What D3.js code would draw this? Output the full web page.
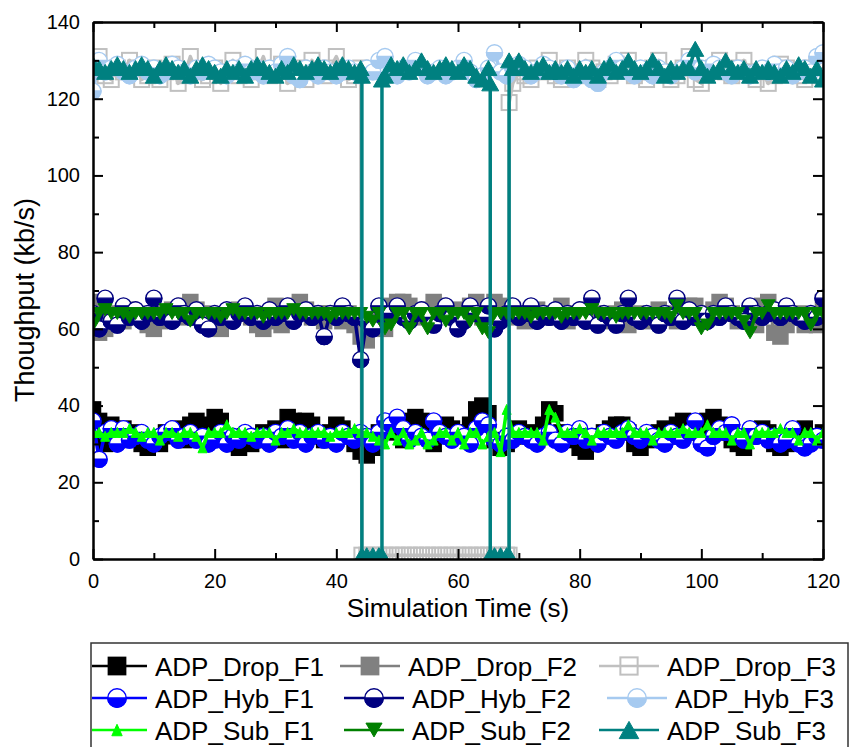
<!DOCTYPE html>
<html><head><meta charset="utf-8">
<script src="https://cdn.jsdelivr.net/npm/d3@7"></script>
<style>body{margin:0;background:#fff}svg{display:block}</style>
</head><body>
<svg id="chart" width="855" height="747"></svg>
<script>
// ---------------- DATA ----------------
const time = [0,1,2,3,4,5,6,7,8,9,10,11,12,13,14,15,16,17,18,19,20,21,22,23,24,25,26,27,28,29,30,31,32,33,34,35,36,37,38,39,40,41,42,43,44,45,46,47,48,49,50,51,52,53,54,55,56,57,58,59,60,61,62,63,64,65,66,67,68,69,70,71,72,73,74,75,76,77,78,79,80,81,82,83,84,85,86,87,88,89,90,91,92,93,94,95,96,97,98,99,100,101,102,103,104,105,106,107,108,109,110,111,112,113,114,115,116,117,118,119,120];

const dropF1 = [39,36,30,35,31,34,32,33,30,29, 31,30,33,32,34,31,35,36,33,35, 37,36,31,30,29,32,30,31,33,32, 34,31,37,36,33,36,35,32,31,33, 35,34,32,30,28,27,29,33,35,34, 33,31,36,37,36,32,30,33,35,34, 33,32,35,39,40,38,31,29,30,32, 34,32,33,31,35,39,38,33,32,31, 29,28,30,32,33,34,35,35,33,30, 29,31,32,33,34,32,35,36,34,33, 32,36,37,35,33,31,30,29,32,33, 34,33,30,29,30,32,33,34,32,31, 33];
const dropF2 = [67,59,60,63,64,62,65,64,63,61, 60,62,64,65,63,66,67,65,64,61, 62,60,63,64,65,64,63,61,60,62, 66,61,64,66,67,65,63,64,62,64, 63,62,64,61,58,57,61,64,60,66, 67,67,66,64,63,65,67,66,64,63, 65,64,66,67,63,64,67,66,63,65, 64,62,63,65,64,63,64,66,62,64, 63,65,62,64,63,62,64,65,61,63, 64,62,63,65,64,63,62,64,66,66, 64,63,65,67,66,64,62,63,64,61, 66,67,59,58,61,63,64,61,62,61, 67];
const dropF3Time = [0,1,2,3,4,5,6,7,8,9,10,11,12,13,14,15,16,17,18,19,20,21,22,23,24,25,26,27,28,29,30,31,32,33,34,35,36,37,38,39,40,41,42,43,44,44.2,45,46,47,48,49,50,51,52,53,54,55,56,57,58,59,60,61,62,63,64,65,66,67,68,68.4,68.4,69,70,71,72,73,74,75,76,77,78,79,80,81,82,83,84,85,86,87,88,89,90,91,92,93,94,95,96,97,98,99,100,101,102,103,104,105,106,107,108,109,110,111,112,113,114,115,116,117,118,119,120];
const dropF3 = [128,131,126,125,128,127,130,128,125,126, 128,125,127,129,124,126,131,127,125,126, 128,124,127,130,126,128,125,127,131,126, 127,129,124,126,128,125,130,127,126,128, 131,127,125,126,128, 1, 1,1,1,1,1,1,1,1,1,1,1,1,1,1,1,1,1,1,1,1,1,1,1,1, 1,119, 124,127,126,125,128,127,130,126,125,128, 127,126,130,128,125,127,126,129,128,130, 126,127,125,128,130,127,125,126,128,131, 125,124,127,128,130,127,126,128,130,127, 125,127,124,126,129,128,127,126,125,128, 129,126];

const hybF1 = [36,26,33,34,30,34,31,32,33,31, 30,32,33,34,31,32,33,31,32,30, 31,33,30,32,31,33,32,31,32,30, 33,32,34,31,33,30,32,33,31,32, 30,33,32,31,33,32,30,33,36,35, 37,34,31,33,32,31,36,33,32,31, 33,32,30,34,36,35,31,30,32,31, 33,32,31,30,32,33,31,30,33,32, 34,31,32,30,33,32,31,33,34,32, 31,33,32,31,30,33,32,31,33,36, 30,29,32,34,33,35,32,31,34,32, 33,31,32,30,31,34,30,29,30,32, 31];
const hybF2 = [64,60,68,62,61,66,63,65,62,64, 68,63,64,62,66,64,63,65,61,60, 64,63,65,62,64,66,63,64,62,65, 63,64,66,62,64,65,63,64,58,64, 63,66,64,63,52,62,60,66,63,64, 66,63,62,64,65,63,61,64,66,63, 60,62,66,64,63,66,60,62,64,66, 63,64,66,62,64,63,65,62,64,63, 65,62,68,61,64,63,61,64,68,63, 62,64,63,61,64,63,68,62,65,63, 64,62,64,63,66,64,63,62,66,64, 63,64,65,63,66,64,63,62,64,63, 68];
const hybF3 = [122,130,127,128,129,127,126,128,129,127, 128,126,127,129,128,127,126,128,127,129, 128,127,126,128,127,129,127,128,126,128, 127,129,131,126,125,128,127,126,128,127, 126,127,128,127,126,128,127,130,131,127, 126,128,127,130,128,126,127,128,126,127, 128,130,127,125,126,128,132,127,126,128, 129,128,126,127,129,128,127,126,128,125, 126,128,125,124,127,128,130,128,127,126, 128,127,126,128,127,126,127,128,130,127, 128,127,129,128,127,126,128,127,126,127, 128,127,129,127,128,126,127,128,127,131, 132];

const subF1 = [33,33,32,33,33,33,34,33,32,33, 33,31,33,33,32,33,33,32,29,33, 33,33,35,33,33,33,32,33,33,33, 31,33,33,34,33,33,33,33,33,32, 33,33,33,34,33,33,32,31,30,33, 31,33,30,31,33,30,31,33,33,31, 33,30,33,33,30,32,33,28,39,33, 33,33,33,33,31,39,37,33,33,33, 34,33,31,33,33,33,33,33,35,33, 33,33,31,33,33,33,33,34,33,33, 33,35,33,33,33,31,33,33,30,33, 33,33,33,34,33,33,31,33,33,31, 33];
const subF2 = [61,64,65,64,64,64,63,64,64,64, 64,64,65,64,64,64,62,64,64,64, 64,63,64,65,64,64,64,64,63,64, 64,64,64,65,64,64,64,64,64,63, 64,64,64,64,64,63,62,64,60,61, 64,64,60,64,64,60,64,64,62,64, 64,64,62,64,60,59,64,64,64,64, 64,64,63,64,64,64,64,63,64,64, 64,64,65,64,64,64,63,64,64,64, 64,64,64,64,64,63,66,64,64,64, 60,61,64,64,64,64,64,62,59,64, 64,66,64,64,64,64,64,64,61,64, 64];
const subF3Time = [0,1,2,3,4,5,6,7,8,9,10,11,12,13,14,15,16,17,18,19,20,21,22,23,24,25,26,27,28,29,30,31,32,33,34,35,36,37,38,39,40,41,42,43,44,44.2,44.2,45,46,47,47.5,47.5,48,49,50,51,52,53,54,55,56,57,58,59,60,61,62,63,64,65,65.3,65.3,66,67,68,68.4,68.4,69,70,71,72,73,74,75,76,77,78,79,80,81,82,83,84,85,86,87,88,89,90,91,92,93,94,95,96,97,98,99,100,101,102,103,104,105,106,107,108,109,110,111,112,113,114,115,116,117,118,119,120];
const subF3 = [129,128,127,128,129,128,127,128,129,128, 126,128,129,128,127,128,126,128,129,128, 127,126,128,127,128,126,128,129,128,127, 126,128,127,129,128,127,128,129,128,127, 128,129,128,127,128, 126,1, 1,1,1, 1,125, 126,129,128,129,127,128,130,128,127,128,129,128,127,129,128,126,125,128, 124,1, 1,1,1, 1,130, 128,130,128,127,128,129,127,128,127,128, 126,128,127,128,126,128,129,127,128,130, 128,127,128,130,128,126,128,127,128,128, 133,128,126,127,128,130,128,127,128,126, 128,127,128,127,126,128,127,129,128,126, 128,125];

const seriesNames = ["ADP_Drop_F1","ADP_Drop_F2","ADP_Drop_F3","ADP_Hyb_F1","ADP_Hyb_F2","ADP_Hyb_F3","ADP_Sub_F1","ADP_Sub_F2","ADP_Sub_F3"];
const seriesTimes = [time, time, dropF3Time, time, time, time, time, time, subF3Time];
const seriesValues = [dropF1, dropF2, dropF3, hybF1, hybF2, hybF3, subF1, subF2, subF3];
const xTicksMajor = [0,20,40,60,80,100,120];
const xTicksMinor = [10,30,50,70,90,110];
const yTicksMajor = [0,20,40,60,80,100,120,140];
const yTicksMinor = [10,30,50,70,90,110,130];
const xTitle = "Simulation Time (s)";
const yTitle = "Thoughput (kb/s)";

// ---------------- STYLE ----------------
const colors = ["#000000","#808080","#c0c0c0","#0000ff","#000080","#a6caf0","#00ff00","#008000","#008080"];
const markerTypes = ["square","square","openSquare","half","half","half","triSmall","triDown","triUp"];

const FONT = "'Liberation Sans', Arial, Helvetica, sans-serif";
const svg = d3.select("#chart");
const L = 93, R = 823, T = 22, B = 559;
const x = d3.scaleLinear().domain([0,120]).range([L,R]);
const y = d3.scaleLinear().domain([0,140]).range([B,T]);

svg.append("defs").append("clipPath").attr("id","plotClip")
  .append("rect").attr("x",L).attr("y",T).attr("width",R-L).attr("height",B-T);

function drawMarker(g, type, color, scale){
  const s = scale || 1;
  if(type==="square"||type==="openSquare"){
    const a = 15*s;
    g.append("rect").attr("x",-a/2).attr("y",-a/2).attr("width",a).attr("height",a)
      .attr("fill", type==="square"?color:"none").attr("stroke",color).attr("stroke-width",type==="square"?1.5:2);
  } else if(type==="half"){
    const r = 8*s;
    g.append("circle").attr("r",r).attr("fill","#fff").attr("stroke",color).attr("stroke-width",1.4);
    g.append("path").attr("d",`M${-r},0 A${r},${r} 0 0 0 ${r},0 Z`).attr("fill",color).attr("stroke",color).attr("stroke-width",1.4);
  } else if(type==="triSmall"){
    const w = 9*s, h = 10*s;
    g.append("path").attr("d",`M0,${-h/2} L${w/2},${h/2} L${-w/2},${h/2} Z`).attr("fill",color).attr("stroke",color).attr("stroke-width",1);
  } else if(type==="triDown"){
    const w = 14*s, h = 12*s;
    g.append("path").attr("d",`M0,${h/2} L${w/2},${-h/2} L${-w/2},${-h/2} Z`).attr("fill",color).attr("stroke",color).attr("stroke-width",1);
  } else if(type==="triUp"){
    const w = 17*s, h = 15*s;
    g.append("path").attr("d",`M0,${-h/2} L${w/2},${h/2} L${-w/2},${h/2} Z`).attr("fill",color).attr("stroke",color).attr("stroke-width",1);
  }
}

// ---------------- SERIES ----------------
const plot = svg.append("g").attr("clip-path","url(#plotClip)");
const line = d3.line().x(d=>x(d[0])).y(d=>y(d[1]));
seriesNames.forEach((name,i)=>{
  const pts = seriesTimes[i].map((t,k)=>[t, seriesValues[i][k]]);
  const g = plot.append("g").attr("class","series");
  g.append("path").datum(pts).attr("d",line).attr("fill","none")
    .attr("stroke",colors[i]).attr("stroke-width",3.5).attr("stroke-linejoin","round");
  g.selectAll("g.m").data(pts).join("g").attr("class","m")
    .attr("transform",d=>`translate(${x(d[0])},${y(d[1])})`)
    .each(function(){ drawMarker(d3.select(this), markerTypes[i], colors[i], 1); });
});

// ---------------- AXES ----------------
function styleAxis(g){
  g.selectAll(".domain").attr("stroke","#000").attr("stroke-width",2);
  g.selectAll(".tick line").attr("stroke","#000").attr("stroke-width",2);
  g.selectAll("text").attr("font-family",FONT).attr("font-size",20).attr("fill","#000");
}
svg.append("g").attr("transform",`translate(0,${B})`)
  .call(d3.axisBottom(x).tickValues(xTicksMajor).tickSizeInner(-10).tickSizeOuter(0).tickPadding(15).tickFormat(d3.format("d")))
  .call(styleAxis);
svg.append("g").attr("transform",`translate(0,${B})`)
  .call(d3.axisBottom(x).tickValues(xTicksMinor).tickSizeInner(-6).tickSizeOuter(0).tickFormat(""))
  .call(styleAxis);
svg.append("g").attr("transform",`translate(0,${T})`)
  .call(d3.axisTop(x).tickValues(xTicksMajor).tickSizeInner(-10).tickSizeOuter(0).tickFormat(""))
  .call(styleAxis);
svg.append("g").attr("transform",`translate(0,${T})`)
  .call(d3.axisTop(x).tickValues(xTicksMinor).tickSizeInner(-6).tickSizeOuter(0).tickFormat(""))
  .call(styleAxis);
svg.append("g").attr("transform",`translate(${L},0)`)
  .call(d3.axisLeft(y).tickValues(yTicksMajor).tickSizeInner(-10).tickSizeOuter(0).tickPadding(13).tickFormat(d3.format("d")))
  .call(styleAxis);
svg.append("g").attr("transform",`translate(${L},0)`)
  .call(d3.axisLeft(y).tickValues(yTicksMinor).tickSizeInner(-6).tickSizeOuter(0).tickFormat(""))
  .call(styleAxis);
svg.append("g").attr("transform",`translate(${R},0)`)
  .call(d3.axisRight(y).tickValues(yTicksMajor).tickSizeInner(-10).tickSizeOuter(0).tickFormat(""))
  .call(styleAxis);
svg.append("g").attr("transform",`translate(${R},0)`)
  .call(d3.axisRight(y).tickValues(yTicksMinor).tickSizeInner(-6).tickSizeOuter(0).tickFormat(""))
  .call(styleAxis);

// titles
svg.append("text").attr("x",(L+R)/2).attr("y",617).attr("text-anchor","middle")
  .attr("font-family",FONT).attr("font-size",26).text(xTitle);
svg.append("text").attr("transform",`translate(25,${300}) rotate(-90)`).attr("dy","0.35em")
  .attr("text-anchor","middle").attr("font-family",FONT).attr("font-size",27).text(yTitle);

// ---------------- LEGEND ----------------
const boxL = 91, boxR = 848, boxT = 643;
svg.append("rect").attr("x",boxL).attr("y",boxT).attr("width",boxR-boxL).attr("height",140)
  .attr("fill","none").attr("stroke","#333").attr("stroke-width",1.5);
const legendRowY = [666, 698, 730];
const legendTextX = [[155,408,667],[155,412,675],[155,412,667]];
seriesNames.forEach((name,i)=>{
  const row = Math.floor(i/3), col = i%3;
  const cy = legendRowY[row], tx = legendTextX[row][col];
  const g = svg.append("g");
  g.append("line").attr("x1",Math.max(tx-68,boxL+1)).attr("x2",tx-8).attr("y1",cy).attr("y2",cy)
    .attr("stroke",colors[i]).attr("stroke-width",2.5);
  const mg = g.append("g").attr("transform",`translate(${tx-38},${cy})`);
  drawMarker(mg, markerTypes[i], colors[i], 1.15);
  g.append("text").attr("x",tx).attr("y",cy+9.5).attr("font-family",FONT).attr("font-size",26)
    .attr("fill","#000").text(name);
});
</script>
</body></html>
